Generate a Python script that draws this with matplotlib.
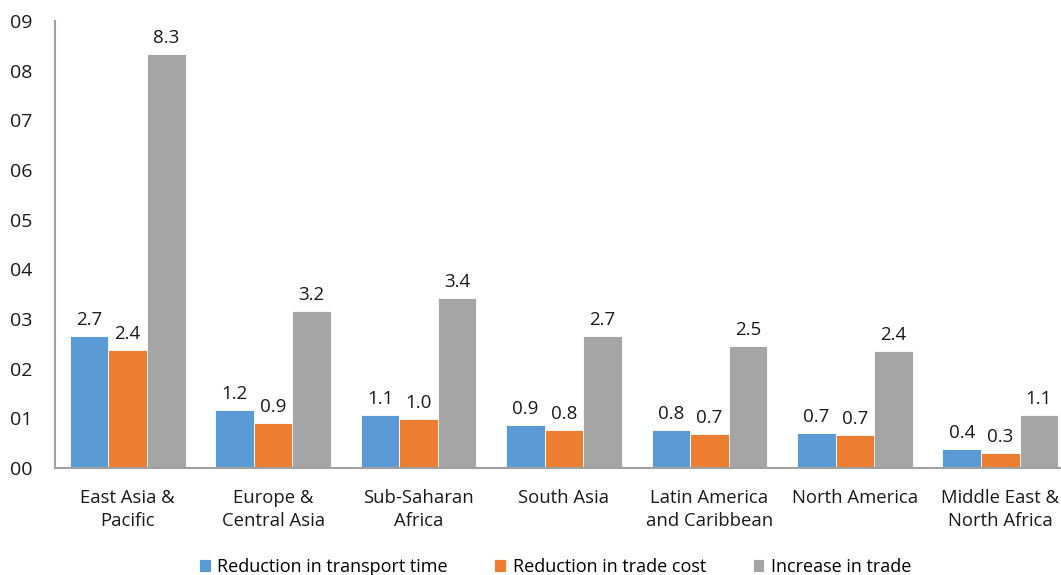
import numpy as np
import matplotlib.pyplot as plt

plt.rcParams['font.family'] = ['Open Sans', 'DejaVu Sans']

regions = ["East Asia &\nPacific", "Europe &\nCentral Asia", "Sub-Saharan\nAfrica", "South Asia",
           "Latin America\nand Caribbean", "North America", "Middle East &\nNorth Africa"]
transport_time = [2.66, 1.16, 1.06, 0.87, 0.76, 0.70, 0.38]
trade_cost = [2.37, 0.91, 0.98, 0.76, 0.68, 0.66, 0.30]
trade_increase = [8.34, 3.16, 3.42, 2.66, 2.46, 2.36, 1.07]
series_names = ["Reduction in transport time", "Reduction in trade cost", "Increase in trade"]
yticks = [0, 1, 2, 3, 4, 5, 6, 7, 8, 9]
ytick_labels = ["%02d" % t for t in yticks]

colors = ["#5B9BD5", "#ED7D31", "#A5A5A5"]

fig = plt.figure(figsize=(10.61, 5.75), dpi=100)
ax = fig.add_axes([55/1061, 1 - 468/575, (1073-55)/1061, (468-21)/575])

x = np.arange(len(regions))
w = 0.265
for i, (vals, name) in enumerate(zip([transport_time, trade_cost, trade_increase], series_names)):
    bars = ax.bar(x + (i-1)*w, vals, width=w, color=colors[i], label=name,
                  edgecolor='white', linewidth=0.6)
    for b, v in zip(bars, vals):
        ax.annotate("%.1f" % v, (b.get_x() + b.get_width()/2, v), xytext=(0, 5),
                    textcoords='offset points', ha='center', va='bottom', fontsize=13.5, color='#1a1a1a')

ax.set_xlim(-0.5, len(regions) - 0.5)
ax.set_ylim(0, 9)
ax.set_yticks(yticks)
ax.set_yticklabels(ytick_labels, fontsize=14, color='#1a1a1a')
ax.set_xticks(x)
ax.set_xticklabels(regions, fontsize=13.3, color='#1a1a1a', linespacing=1.4)
ax.tick_params(length=0)
ax.tick_params(axis='y', pad=16)
ax.tick_params(axis='x', pad=15)
for s in ['top', 'right']:
    ax.spines[s].set_visible(False)
for s in ['left', 'bottom']:
    ax.spines[s].set_color('#a0a0a0')
    ax.spines[s].set_linewidth(1.5)

ax.legend(loc='lower center', bbox_to_anchor=(555/1061, -17/575), bbox_transform=fig.transFigure,
          ncol=3, frameon=False, fontsize=13, handlelength=0.65, handleheight=0.75,
          handletextpad=0.35, columnspacing=2.6)

fig.savefig("out.png", dpi=100)
